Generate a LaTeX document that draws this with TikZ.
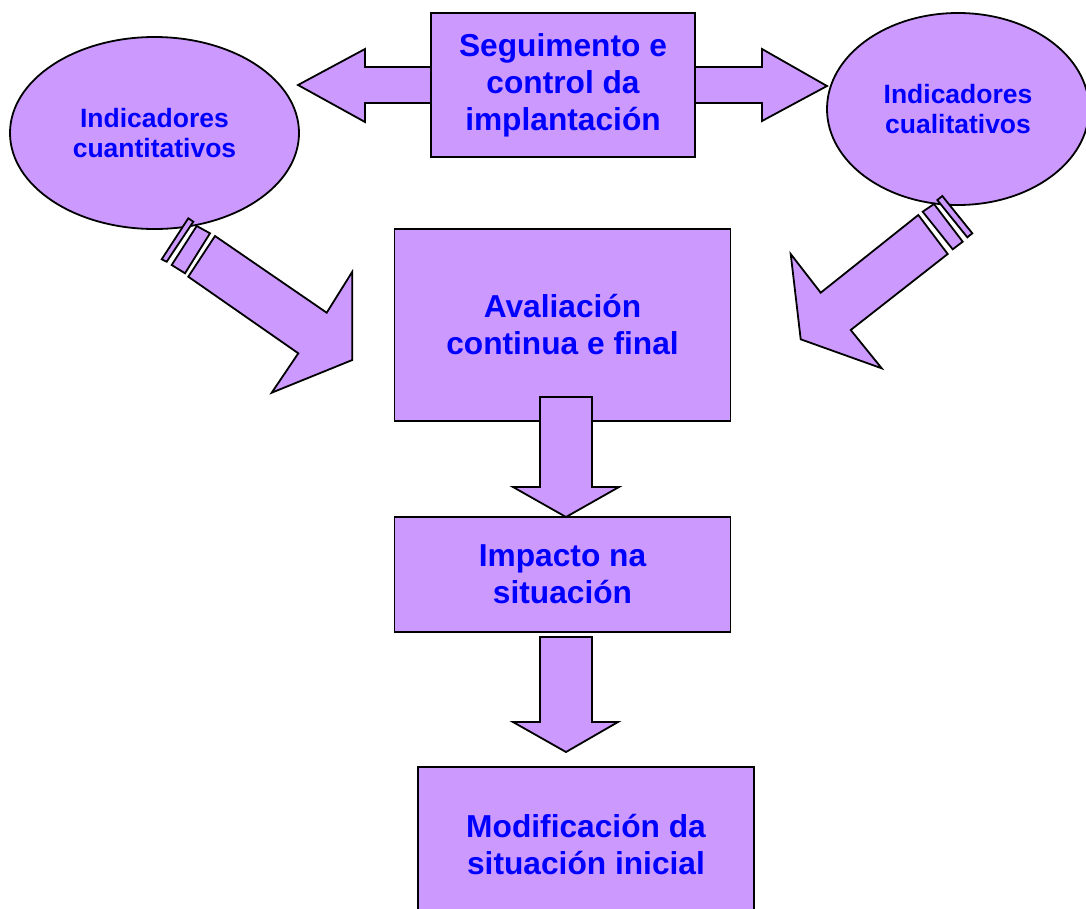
\documentclass[tikz,border=0pt]{standalone}
\usepackage{fontspec}
\setmainfont{Liberation Sans}
\usetikzlibrary{shapes.geometric}
\definecolor{lilac}{HTML}{CC99FF}
\definecolor{labelblue}{HTML}{0000FF}

\begin{document}
\begin{tikzpicture}[x=1pt,y=-1pt,
    every node/.style={text=labelblue},
    box/.style={draw,line width=1.8pt,fill=lilac,rectangle,align=center,inner sep=0pt,
      font=\bfseries\fontsize{31.7}{37}\selectfont},
    bubble/.style={draw,line width=1.8pt,fill=lilac,ellipse,align=center,inner sep=0pt,
      font=\bfseries\fontsize{26.5}{30}\selectfont},
    blockarrow/.style={draw,line width=1.8pt,fill=lilac,line join=miter}]
    \clip (0,0) rectangle (1086,908);
    % indicator bubbles
    \node[bubble,minimum width=289pt,minimum height=192pt] (quant) at (154.5,133) {Indicadores\\cuantitativos};
    \node[bubble,minimum width=262pt,minimum height=192pt] (qual) at (958,109) {Indicadores\\cualitativos};
    % double arrow behind the top box
    \draw[blockarrow] (298,85) -- (365,49) -- (365,67) -- (762,67) -- (762,49) -- (827,86)
      -- (762,121) -- (762,103) -- (365,103) -- (365,122) -- cycle;
    % boxes
    \node[box,minimum width=264pt,minimum height=144pt] (follow) at (563,85) {Seguimento e\\control da\\implantación};
    \node[box,minimum width=336pt,minimum height=192pt] (eval) at (562.5,325) {Avaliación\\continua e final};
    \node[box,minimum width=336pt,minimum height=115pt] (impact) at (562.5,574.5) {Impacto na\\situación};
    \node[box,minimum width=336pt,minimum height=156pt] (change) at (586,845) {Modificación da\\situación inicial};
    % striped arrows from the bubbles
    \draw[blockarrow] (188.3,218.3) -- (193.3,221.7) -- (166.7,261.7) -- (161.7,259.3) -- cycle;
    \draw[blockarrow] (196.7,226) -- (210,233.3) -- (185,273.3) -- (171.7,265) -- cycle;
    \draw[blockarrow] (215,236) -- (326.7,312.7) -- (352.3,271.7) -- (352.3,360) -- (271.7,392.7)
      -- (298.3,353.3) -- (188.3,276.7) -- cycle;
    \draw[blockarrow] (937.3,200) -- (942.3,196) -- (972.3,233.3) -- (967.3,237.3) -- cycle;
    \draw[blockarrow] (922.7,211.7) -- (934,204) -- (962.7,241.7) -- (952.7,249.3) -- cycle;
    \draw[blockarrow] (918.3,215) -- (820.7,292.7) -- (790.7,254) -- (800.7,339.3) -- (881.7,368.3)
      -- (850.7,330) -- (947.7,254) -- cycle;
    % down arrows
    \draw[blockarrow] (540,397) -- (592,397) -- (592,487) -- (619,487) -- (566,517)
      -- (513,487) -- (540,487) -- cycle;
    \draw[blockarrow] (540,637) -- (592,637) -- (592,722) -- (618,722) -- (566,752)
      -- (513,722) -- (540,722) -- cycle;
\end{tikzpicture}
\end{document}
